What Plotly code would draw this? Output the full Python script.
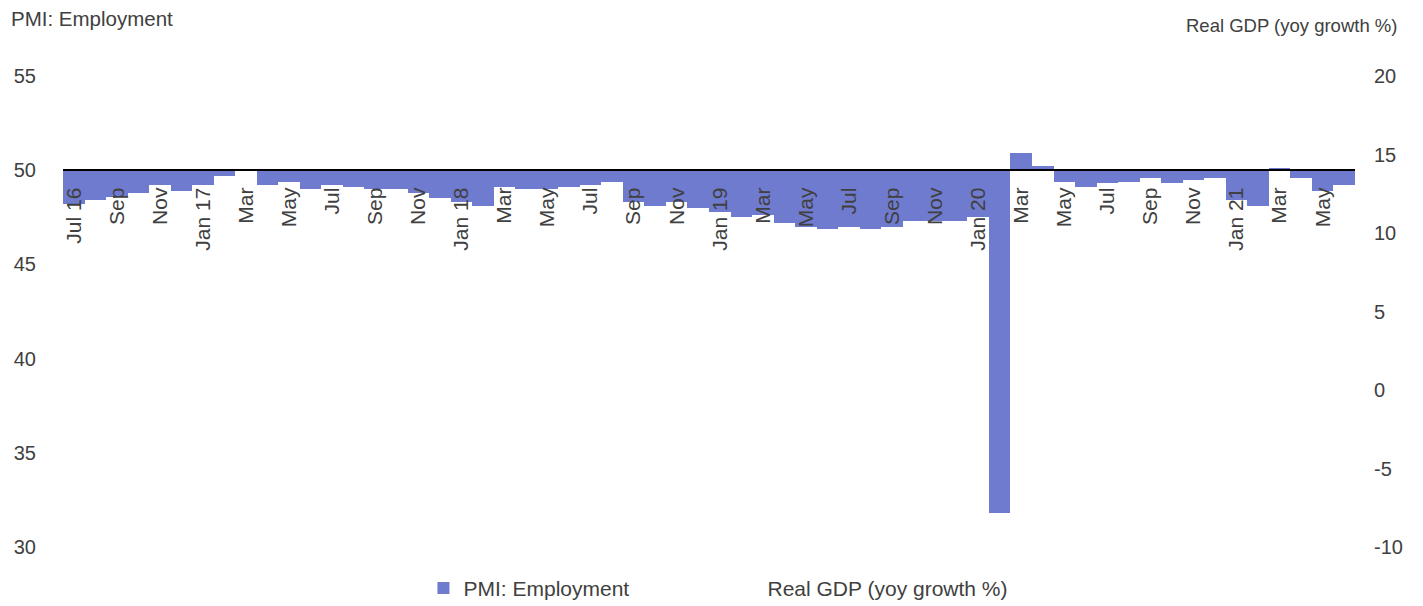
import plotly.graph_objects as go

# Monthly observations, Jul 2016 - Jun 2021
months = [
    "2016-07", "2016-08", "2016-09", "2016-10", "2016-11", "2016-12",
    "2017-01", "2017-02", "2017-03", "2017-04", "2017-05", "2017-06",
    "2017-07", "2017-08", "2017-09", "2017-10", "2017-11", "2017-12",
    "2018-01", "2018-02", "2018-03", "2018-04", "2018-05", "2018-06",
    "2018-07", "2018-08", "2018-09", "2018-10", "2018-11", "2018-12",
    "2019-01", "2019-02", "2019-03", "2019-04", "2019-05", "2019-06",
    "2019-07", "2019-08", "2019-09", "2019-10", "2019-11", "2019-12",
    "2020-01", "2020-02", "2020-03", "2020-04", "2020-05", "2020-06",
    "2020-07", "2020-08", "2020-09", "2020-10", "2020-11", "2020-12",
    "2021-01", "2021-02", "2021-03", "2021-04", "2021-05", "2021-06",
]

pmi_employment = [
    48.2, 48.4, 48.6, 48.8, 49.2, 48.9,
    49.2, 49.7, 50.0, 49.2, 49.4, 49.0, 49.2, 49.1, 49.0, 49.0, 48.8, 48.5,
    48.3, 48.1, 49.1, 49.0, 49.0, 49.1, 49.2, 49.4, 48.3, 48.1, 48.3, 48.0,
    47.8, 47.5, 47.6, 47.2, 47.0, 46.9, 47.0, 46.9, 47.0, 47.3, 47.3, 47.3,
    47.5, 31.8, 50.9, 50.2, 49.4, 49.1, 49.3, 49.4, 49.6, 49.3, 49.5, 49.6,
    48.4, 48.1, 50.1, 49.6, 48.9, 49.2,
]

# Real GDP series carries no observations for this window
real_gdp = [None] * len(months)

tick_months = months[::2]
tick_text = [
    "Jul 16", "Sep", "Nov", "Jan 17", "Mar", "May", "Jul", "Sep", "Nov",
    "Jan 18", "Mar", "May", "Jul", "Sep", "Nov",
    "Jan 19", "Mar", "May", "Jul", "Sep", "Nov",
    "Jan 20", "Mar", "May", "Jul", "Sep", "Nov",
    "Jan 21", "Mar", "May",
]

pmi_ticks = [30, 35, 40, 45, 50, 55]
gdp_ticks = [-10, -5, 0, 5, 10, 15, 20]
gdp_tick_text = [str(v) for v in gdp_ticks]  # plain hyphen for negatives

PMI_BASE = 50
Y_MIN, Y_MAX = 30, 55
FONT = "Liberation Sans, Arial, sans-serif"
TEXT = "#404040"
BAR = "#6F7BCF"

fig = go.Figure()

fig.add_trace(go.Bar(
    x=months,
    y=[v - PMI_BASE for v in pmi_employment],
    base=PMI_BASE,
    customdata=pmi_employment,
    hovertemplate="%{x}: %{customdata}<extra></extra>",
    name="PMI: Employment",
    marker=dict(color=BAR, line=dict(width=0)),
    width=1.0,
))

fig.add_trace(go.Scatter(
    x=months,
    y=real_gdp,
    yaxis="y2",
    mode="lines",
    name="Real GDP (yoy growth %)",
    line=dict(color="rgba(0,0,0,0)", width=2),
))

fig.update_layout(
    width=1423,
    height=606,
    margin=dict(l=63, r=68, t=76, b=59, autoexpand=False),
    paper_bgcolor="white",
    plot_bgcolor="white",
    font=dict(family=FONT, size=20, color=TEXT),
    bargap=0,
    showlegend=True,
    legend=dict(
        orientation="h",
        x=0.279, xanchor="left",
        y=-0.088, yanchor="middle",
        font=dict(size=21, color=TEXT),
        entrywidth=259,
        itemclick=False,
    ),
    xaxis=dict(
        type="category",
        categoryorder="array",
        categoryarray=months,
        range=[-0.5, len(months) - 0.5],
        anchor="free",
        position=(PMI_BASE - Y_MIN) / (Y_MAX - Y_MIN),
        showline=True,
        linecolor="black",
        linewidth=2,
        showgrid=False,
        zeroline=False,
        ticks="",
        tickmode="array",
        tickvals=tick_months,
        ticktext=tick_text,
        tickangle=-90,
        tickfont=dict(size=21, color=TEXT),
        ticklabelstandoff=8,
    ),
    yaxis=dict(
        range=[Y_MIN, Y_MAX],
        tickmode="array",
        tickvals=pmi_ticks,
        showgrid=False,
        zeroline=False,
        showline=False,
        ticks="",
        tickfont=dict(size=20, color=TEXT),
        ticklabelstandoff=26,
    ),
    yaxis2=dict(
        overlaying="y",
        side="right",
        range=[-10, 20],
        tickmode="array",
        tickvals=gdp_ticks,
        ticktext=gdp_tick_text,
        showgrid=False,
        zeroline=False,
        showline=False,
        ticks="",
        tickfont=dict(size=20, color=TEXT),
        ticklabelstandoff=18,
    ),
    annotations=[
        dict(text="PMI: Employment", xref="paper", yref="paper",
             x=0, xshift=-54, y=1, yshift=58, xanchor="left", yanchor="middle",
             showarrow=False, font=dict(size=20.5, color=TEXT)),
        dict(text="Real GDP (yoy growth %)", xref="paper", yref="paper",
             x=1, xshift=44, y=1, yshift=51, xanchor="right", yanchor="middle",
             showarrow=False, font=dict(size=18.5, color=TEXT)),
    ],
)

fig.write_html("out.html")
